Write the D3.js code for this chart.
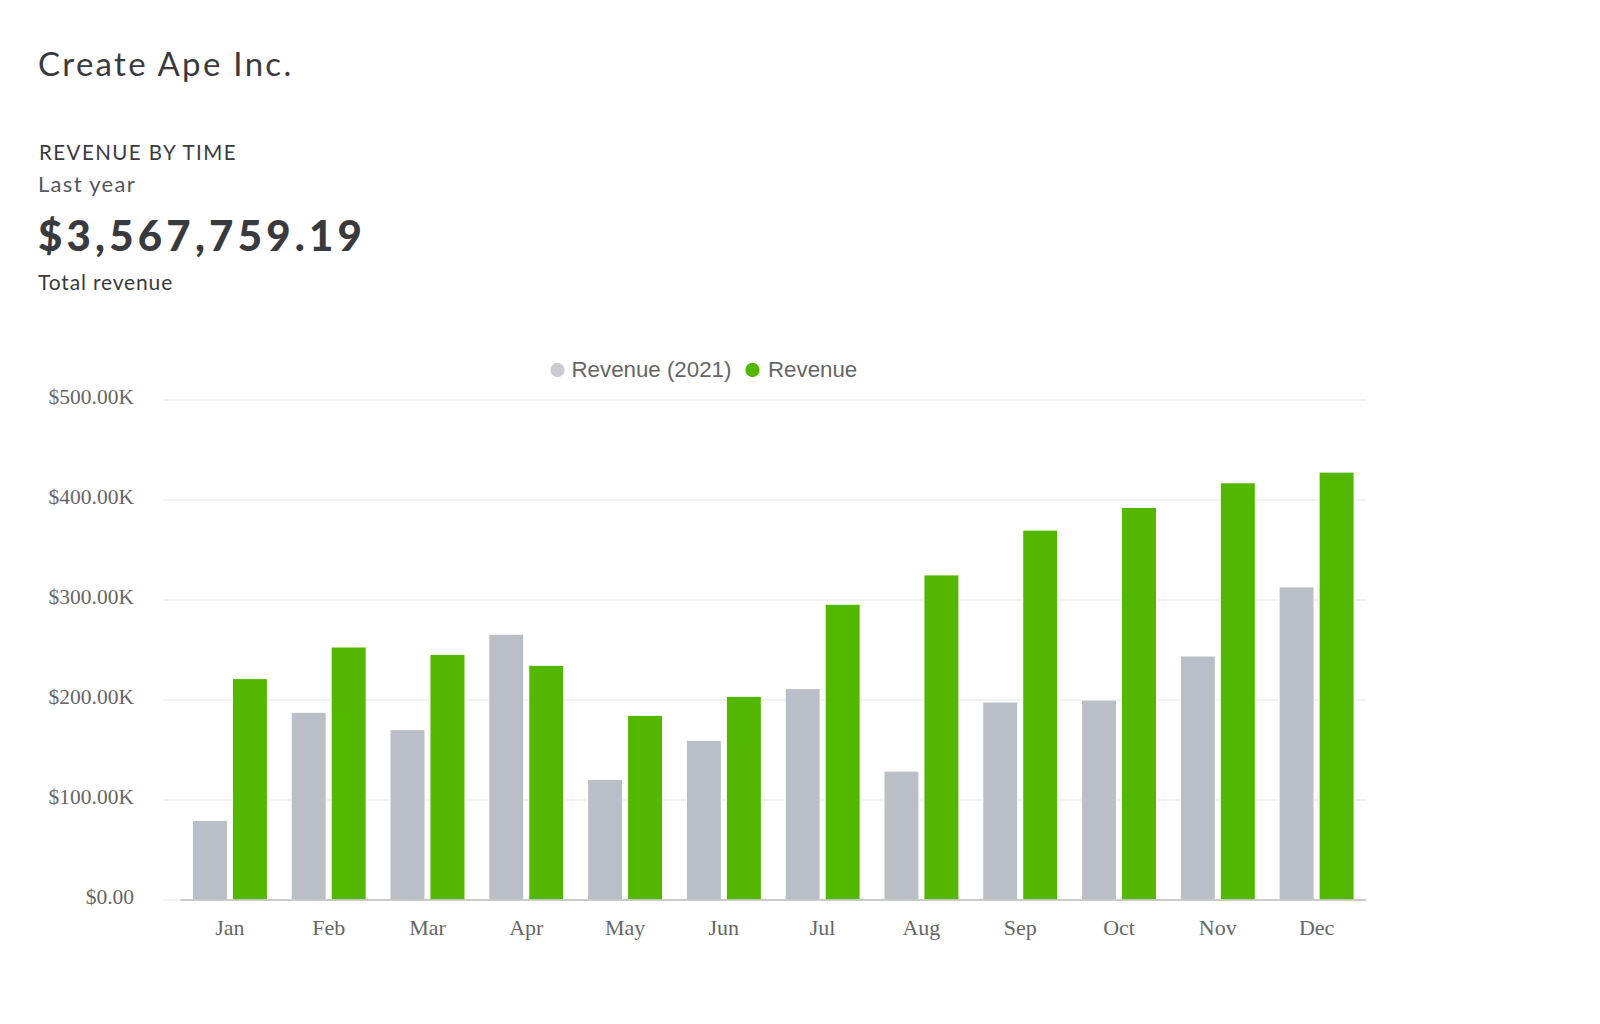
<!DOCTYPE html>
<html>
<head>
<meta charset="utf-8">
<script src="https://cdn.jsdelivr.net/npm/d3@7"></script>
<style>
  html, body { margin: 0; padding: 0; background: #ffffff; }
  svg { display: block; }
</style>
</head>
<body>
<svg id="chart" width="1600" height="1024"></svg>
<script>
// ---- Data ----
const months = ["Jan","Feb","Mar","Apr","May","Jun","Jul","Aug","Sep","Oct","Nov","Dec"];
const seriesNames = ["Revenue (2021)", "Revenue"];
const revenue2021 = [79600, 187700, 170400, 265800, 120600, 159700, 211400, 128900, 198000, 200000, 244000, 313100];
const revenue = [221400, 253000, 245700, 234700, 184700, 203700, 295800, 325100, 369900, 392600, 417200, 427900];
const yTicks = [0, 100000, 200000, 300000, 400000, 500000];
const yTickLabels = ["$0.00", "$100.00K", "$200.00K", "$300.00K", "$400.00K", "$500.00K"];
const companyName = "Create Ape Inc.";
const reportTitle = "REVENUE BY TIME";
const periodLabel = "Last year";
const totalText = "$3,567,759.19";
const totalLabel = "Total revenue";

const colors = { "Revenue (2021)": "#babec6", "Revenue": "#53b700" };
const legendColors = { "Revenue (2021)": "#c9ccd2", "Revenue": "#53b700" };

const svg = d3.select("#chart");

// ---- Header ----
const hFont = "Lato, 'Noto Sans', sans-serif";
svg.append("text").attr("x", 38).attr("y", 76)
  .attr("font-family", hFont).attr("font-size", 33).attr("fill", "#393a3d")
  .attr("letter-spacing", 2.3)
  .text(companyName);
svg.append("text").attr("x", 39).attr("y", 160)
  .attr("font-family", hFont).attr("font-size", 20.5).attr("fill", "#393a3d")
  .attr("letter-spacing", 1.45)
  .text(reportTitle);
svg.append("text").attr("x", 38).attr("y", 192)
  .attr("font-family", hFont).attr("font-size", 22).attr("fill", "#55565b")
  .attr("letter-spacing", 1.3)
  .text(periodLabel);
svg.append("text").attr("x", 38).attr("y", 251)
  .attr("font-family", hFont).attr("font-size", 42).attr("font-weight", 900)
  .attr("fill", "#393a3d").attr("letter-spacing", 4.2)
  .text(totalText);
svg.append("text").attr("x", 38).attr("y", 290)
  .attr("font-family", hFont).attr("font-size", 21).attr("fill", "#393a3d")
  .attr("letter-spacing", 0.85)
  .text(totalLabel);

// ---- Scales ----
const x0 = d3.scaleBand().domain(months).range([180.5, 1366]).paddingInner(0.241).paddingOuter(0.1205);
const x1 = d3.scaleBand().domain(seriesNames).range([0, x0.bandwidth()]).paddingInner(0.125);
const y = d3.scaleLinear().domain([0, 500000]).range([900, 400]);

// ---- Grid ----
const g = svg.append("g");
g.selectAll("line.grid").data(yTicks).join("line")
  .attr("class", "grid")
  .attr("x1", 163).attr("x2", 1366)
  .attr("y1", d => y(d)).attr("y2", d => y(d))
  .attr("stroke", "#e6e6e6").attr("stroke-width", 1.2);

// y labels
const serif = "'Liberation Serif', 'Times New Roman', serif";
g.selectAll("text.ylab").data(yTicks).join("text")
  .attr("class", "ylab")
  .attr("x", 134).attr("y", d => y(d) + 3.5)
  .attr("text-anchor", "end")
  .attr("font-family", serif).attr("font-size", 21.5).attr("fill", "#666666")
  .text((d, i) => yTickLabels[i]);

// ---- Bars ----
const rows = months.map((m, i) => ({ month: m, values: [
  { name: seriesNames[0], value: revenue2021[i] },
  { name: seriesNames[1], value: revenue[i] }
]}));
const groups = g.selectAll("g.month").data(rows).join("g")
  .attr("class", "month")
  .attr("transform", d => `translate(${x0(d.month)},0)`);
groups.selectAll("rect").data(d => d.values).join("rect")
  .attr("x", d => x1(d.name))
  .attr("width", x1.bandwidth())
  .attr("y", d => y(d.value))
  .attr("height", d => y(0) - y(d.value))
  .attr("fill", d => colors[d.name])
  .attr("stroke", "#ffffff").attr("stroke-width", 1);

// x axis line
g.append("line").attr("x1", 180.5).attr("x2", 1366).attr("y1", y(0)).attr("y2", y(0))
  .attr("stroke", "#bdbdbd").attr("stroke-width", 1.5);

// x labels
g.selectAll("text.xlab").data(months).join("text")
  .attr("class", "xlab")
  .attr("x", d => x0(d) + x0.bandwidth() / 2).attr("y", 935)
  .attr("text-anchor", "middle")
  .attr("font-family", serif).attr("font-size", 22).attr("fill", "#666666")
  .text(d => d);

// ---- Legend ----
const legendFont = "'Liberation Sans', Arial, sans-serif";
const legendItems = [
  { name: seriesNames[0], cx: 557.5, tx: 571.5 },
  { name: seriesNames[1], cx: 752.5, tx: 768 }
];
const lg = svg.append("g");
lg.selectAll("circle").data(legendItems).join("circle")
  .attr("cx", d => d.cx).attr("cy", 370).attr("r", 7.2)
  .attr("fill", d => legendColors[d.name]);
lg.selectAll("text").data(legendItems).join("text")
  .attr("x", d => d.tx).attr("y", 377)
  .attr("font-family", legendFont).attr("font-size", 22.3).attr("fill", "#666666")
  .text(d => d.name);
</script>
</body>
</html>
